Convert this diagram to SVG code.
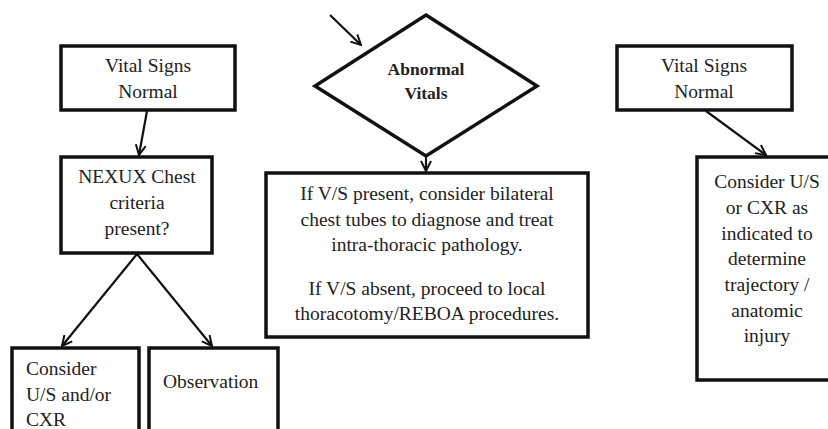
<svg xmlns="http://www.w3.org/2000/svg" width="828" height="429" viewBox="0 0 828 429">
<defs>
<marker id="arr" viewBox="0 0 12 12" refX="11" refY="6" markerWidth="12" markerHeight="12" markerUnits="userSpaceOnUse" orient="auto">
<path d="M1,1 L11,6 L1,11" fill="none" stroke="#111" stroke-width="2"/>
</marker>
<style>
.box{fill:#fff;stroke:#111;stroke-width:3.5}
text{font-family:'Liberation Serif','Times New Roman','DejaVu Serif',serif;font-size:19.5px;fill:#222;text-anchor:middle}
text.l{text-anchor:start}
text.b{font-weight:bold;font-size:17.5px}
.c{fill:none;stroke:#111;stroke-width:2.2;marker-end:url(#arr)}
</style>
</defs>
<rect width="828" height="429" fill="#fff"/>
<g id="vs-left">
<rect class="box" x="61" y="46" width="174" height="64"/>
<text x="148" y="72">Vital Signs</text>
<text x="148" y="98">Normal</text>
</g>
<g id="nexux">
<rect class="box" x="61" y="157" width="151" height="96"/>
<text x="137" y="183">NEXUX Chest</text>
<text x="137" y="209">criteria</text>
<text x="137" y="235">present?</text>
</g>
<g id="consider-left">
<rect class="box" x="12" y="348" width="127" height="100"/>
<text class="l" x="26" y="375">Consider</text>
<text class="l" x="26" y="401">U/S and/or</text>
<text class="l" x="26" y="426">CXR</text>
</g>
<g id="observation">
<rect class="box" x="149" y="348" width="129" height="100"/>
<text class="l" x="163" y="388">Observation</text>
</g>
<g id="abnormal">
<polygon class="box" points="426,15 537,86 426,156 315,86"/>
<text class="b" x="426" y="75">Abnormal</text>
<text class="b" x="426" y="99">Vitals</text>
</g>
<g id="middle">
<rect class="box" x="266" y="173" width="322" height="164"/>
<text x="427" y="200">If V/S present, consider bilateral</text>
<text x="427" y="226">chest tubes to diagnose and treat</text>
<text x="427" y="251">intra-thoracic pathology.</text>
<text x="427" y="295">If V/S absent, proceed to local</text>
<text x="427" y="320">thoracotomy/REBOA procedures.</text>
</g>
<g id="vs-right">
<rect class="box" x="617" y="46" width="175" height="64"/>
<text x="704" y="72">Vital Signs</text>
<text x="704" y="98">Normal</text>
</g>
<g id="consider-right">
<rect class="box" x="697" y="157" width="140" height="223"/>
<text x="767" y="188">Consider U/S</text>
<text x="767" y="214">or CXR as</text>
<text x="767" y="240">indicated to</text>
<text x="767" y="265">determine</text>
<text x="767" y="291">trajectory /</text>
<text x="767" y="317">anatomic</text>
<text x="767" y="342">injury</text>
</g>
<g id="connectors">
<line class="c" x1="147" y1="111" x2="139" y2="155"/>
<line class="c" x1="137" y1="254" x2="62" y2="346"/>
<line class="c" x1="137" y1="254" x2="212" y2="346"/>
<line class="c" x1="330" y1="15" x2="361" y2="45"/>
<line class="c" x1="426" y1="157" x2="426" y2="171"/>
<line class="c" x1="706" y1="111" x2="766" y2="155"/>
</g>
</svg>
